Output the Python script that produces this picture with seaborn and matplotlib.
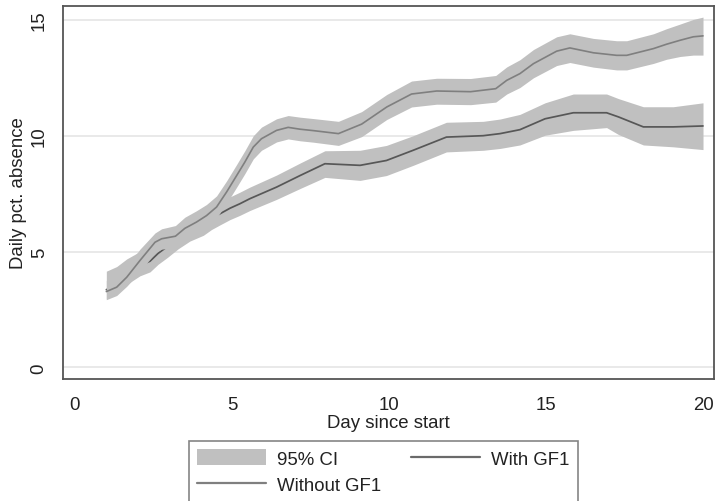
import numpy as np
import pandas as pd
import matplotlib
matplotlib.use("Agg")
import matplotlib.pyplot as plt
from matplotlib.patches import Patch
from matplotlib.lines import Line2D
import seaborn as sns

# ---- data ----
days_without = [1.0, 1.33, 1.65, 2.07, 2.55, 2.76, 3.2, 3.5, 3.87, 4.19, 4.51, 4.83, 5.15, 5.41,
                5.68, 5.94, 6.42, 6.79, 7.17, 7.59, 8.39, 9.13, 9.93, 10.72, 11.52, 12.6, 13.4,
                13.75, 14.17, 14.6, 15.34, 15.76, 16.51, 17.25, 17.57, 18.42, 18.84, 19.27, 19.69, 20.0]
without_mean = [3.27, 3.46, 3.89, 4.61, 5.40, 5.55, 5.66, 6.00, 6.27, 6.55, 6.92, 7.57, 8.28, 8.86,
                9.51, 9.87, 10.23, 10.36, 10.28, 10.22, 10.09, 10.50, 11.24, 11.80, 11.93, 11.90, 12.03,
                12.39, 12.68, 13.11, 13.65, 13.79, 13.58, 13.47, 13.47, 13.76, 13.95, 14.12, 14.27, 14.31]
without_lo = [2.92, 3.10, 3.50, 4.12, 4.95, 5.10, 5.18, 5.50, 5.78, 6.08, 6.45, 7.08, 7.78, 8.36,
              9.00, 9.37, 9.73, 9.86, 9.78, 9.72, 9.58, 9.96, 10.70, 11.24, 11.36, 11.34, 11.45,
              11.80, 12.08, 12.50, 13.03, 13.16, 12.96, 12.84, 12.84, 13.12, 13.30, 13.42, 13.48, 13.48]
without_hi = [3.75, 3.90, 4.35, 5.10, 5.80, 5.98, 6.12, 6.48, 6.76, 7.03, 7.40, 8.05, 8.76, 9.35,
              10.00, 10.37, 10.73, 10.87, 10.80, 10.74, 10.62, 11.04, 11.78, 12.36, 12.48, 12.47, 12.60,
              12.97, 13.28, 13.72, 14.27, 14.40, 14.20, 14.10, 14.10, 14.40, 14.62, 14.82, 15.02, 15.12]

days_with = [1.0, 1.33, 1.65, 2.07, 2.39, 2.65, 2.95, 3.29, 3.66, 4.09, 4.35, 4.62, 4.94, 5.25,
             5.57, 6.42, 7.17, 7.96, 9.08, 9.92, 10.77, 11.83, 13.0, 13.54, 14.17, 14.97, 15.87,
             16.93, 17.31, 18.1, 19.05, 20.0]
with_mean = [3.35, 3.55, 4.0, 4.40, 4.58, 4.92, 5.22, 5.55, 5.90, 6.20, 6.45, 6.63, 6.87, 7.06,
             7.28, 7.78, 8.28, 8.79, 8.72, 8.93, 9.37, 9.94, 10.00, 10.09, 10.26, 10.73, 10.99,
             10.99, 10.81, 10.38, 10.38, 10.42]
with_lo = [2.95, 3.17, 3.58, 3.95, 4.12, 4.45, 4.75, 5.12, 5.45, 5.70, 5.95, 6.15, 6.38, 6.56,
           6.77, 7.25, 7.72, 8.20, 8.07, 8.28, 8.72, 9.30, 9.37, 9.45, 9.60, 10.02, 10.23,
           10.35, 10.05, 9.60, 9.52, 9.40]
with_hi = [4.15, 4.35, 4.68, 5.00, 5.05, 5.38, 5.68, 6.00, 6.35, 6.68, 6.92, 7.12, 7.36, 7.56,
           7.78, 8.30, 8.82, 9.35, 9.37, 9.58, 10.00, 10.58, 10.62, 10.72, 10.92, 11.42, 11.80,
           11.80, 11.60, 11.25, 11.25, 11.42]

x_ticks = [0, 5, 10, 15, 20]
y_ticks = [0, 5, 10, 15]
legend_labels = ["95% CI", "Without GF1", "With GF1"]

# ---- style ----
sns.set_theme(style="white")
plt.rcParams['font.family'] = ['Liberation Sans', 'DejaVu Sans']
FS = 13.4

band_col = "#c0c0c0"
col_without = "#7f7f7f"
col_with = "#575757"
spine_col = "#555555"

fig = plt.figure(figsize=(7.16, 5.02), dpi=100)
ax = fig.add_axes([63/716, 1-380/502, (714-63)/716, (380-7)/502])

df_without = pd.DataFrame({"day": days_without, "val": without_mean})
df_with = pd.DataFrame({"day": days_with, "val": with_mean})

# drawing order: lower band, lower line, upper band, upper line
ax.fill_between(days_with, with_lo, with_hi, color=band_col, lw=0, zorder=1)
sns.lineplot(data=df_with, x="day", y="val", ax=ax, color=col_with, lw=1.25,
             legend=False, zorder=2)
ax.fill_between(days_without, without_lo, without_hi, color=band_col, lw=0, zorder=3)
sns.lineplot(data=df_without, x="day", y="val", ax=ax, color=col_without, lw=1.2,
             legend=False, zorder=4)

ax.set_xlim(-0.38, 20.35)
ax.set_ylim(-0.505, 15.6)
ax.set_xticks(x_ticks)
ax.set_yticks(y_ticks)
ax.set_xticklabels([str(t) for t in x_ticks], fontsize=FS)
ax.set_yticklabels([str(t) for t in y_ticks], fontsize=FS, rotation=90, va="center")

ax.yaxis.grid(True, color="#e3e3e3", lw=1.1, zorder=0)
ax.xaxis.grid(False)
ax.set_axisbelow(True)

for s in ax.spines.values():
    s.set_visible(True)
    s.set_color(spine_col)
    s.set_linewidth(1.3)

ax.tick_params(axis="both", which="major", direction="out", length=6, width=1.1,
               color=spine_col, colors="#222222")
ax.tick_params(axis="y", pad=5)
ax.tick_params(axis="x", pad=6)

ax.set_xlabel("Day since start", fontsize=FS, color="#222222", labelpad=1)
ax.set_ylabel("Daily pct. absence", fontsize=FS, color="#222222", labelpad=3)

handles = [Patch(facecolor=band_col, edgecolor="none"),
           Line2D([0], [0], color=col_without, lw=1.6),
           Line2D([0], [0], color="#6a6a6a", lw=1.6)]
leg = fig.legend(handles, legend_labels, ncol=2, loc="upper left",
                 bbox_to_anchor=(189/716, 1-442/502), fontsize=FS,
                 frameon=True, fancybox=False, handlelength=3.7, handleheight=0.95,
                 handletextpad=0.6, columnspacing=1.6, labelspacing=0.42,
                 borderpad=0.45, borderaxespad=0)
leg.get_frame().set_edgecolor("#666666")
leg.get_frame().set_linewidth(1.2)
for t in leg.get_texts():
    t.set_color("#222222")

fig.savefig("out.png", dpi=100)
